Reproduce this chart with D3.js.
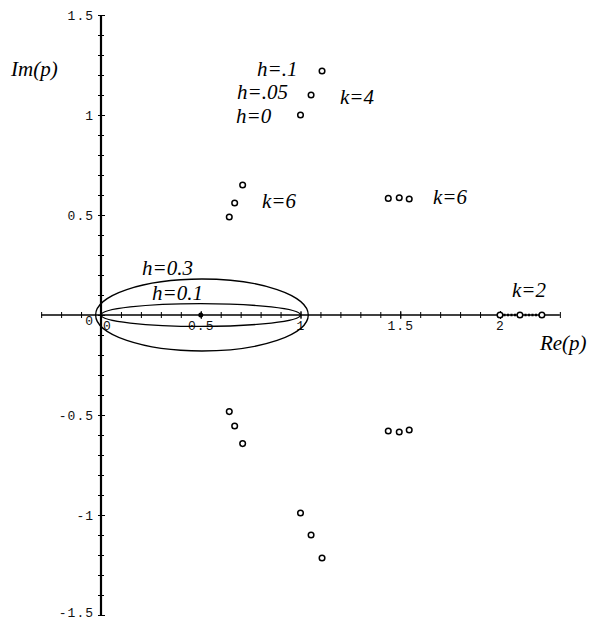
<!DOCTYPE html>
<html>
<head>
<meta charset="utf-8">
<script src="https://cdn.jsdelivr.net/npm/d3@7"></script>
<style>
  body { margin: 0; background: #fff; }
  .lbl { font-family: "Liberation Serif", "Times New Roman", "DejaVu Serif", serif; font-style: italic; font-size: 21px; fill: #000; }
  .tk text { font-family: "Liberation Mono", "DejaVu Sans Mono", monospace; font-size: 13px; fill: #111; letter-spacing: 1px; }
</style>
</head>
<body>
<div class="plot"></div>
<script>
// roots in the complex plane (Re, Im)
var poleRe = [1.0, 1.053, 1.108, 0.643, 0.67, 0.71, 1.44, 1.495, 1.545, 2.0, 2.1, 2.21,
              0.643, 0.67, 0.71, 1.44, 1.495, 1.545, 1.0, 1.053, 1.108];
var poleIm = [1.0, 1.10, 1.22, 0.49, 0.56, 0.65, 0.583, 0.586, 0.58, 0, 0, 0,
              -0.483, -0.555, -0.643, -0.58, -0.585, -0.575, -0.99, -1.10, -1.215];

// the two ellipses (h=0.3 outer, h=0.1 inner)
var ellCx = [0.506, 0.5];
var ellRx = [0.533, 0.5];
var ellRy = [0.18, 0.057];

var xMajor = [0, 0.5, 1, 1.5, 2];
var yMajor = [1.5, 1, 0.5, 0, -0.5, -1, -1.5];

var labelText = ["h=.1", "h=.05", "h=0", "k=4", "k=6", "k=6", "k=2", "h=0.3", "h=0.1", "Im(p)", "Re(p)"];
var labelRe = [0.782, 0.682, 0.677, 1.198, 0.807, 1.664, 2.06, 0.206, 0.256, -0.451, 2.2];
var labelIm = [1.195, 1.08, 0.962, 1.055, 0.535, 0.555, 0.09, 0.2, 0.075, 1.195, -0.175];

var svgWidth = 590;
var svgHeight = 622;

var x = d3.scaleLinear().domain([0, 2]).range([101, 500]);
var y = d3.scaleLinear().domain([-1.5, 1.5]).range([615, 15]);

var svg = d3.select(".plot")
            .append("svg")
            .attr("width", svgWidth)
            .attr("height", svgHeight);

// minor ticks every 0.1
var xMinor = d3.range(-3, 24).map(function(i) { return i / 10; });
var yMinor = d3.range(-15, 16).map(function(i) { return i / 10; });

var xAx = svg.append("g")
    .attr("class", "tk")
    .attr("transform", "translate(0," + y(0) + ")")
    .call(d3.axisBottom(x).tickValues(xMinor).tickFormat(""));
xAx.select(".domain").attr("d", "M" + x(-0.3) + ",0H" + x(2.3)).attr("stroke-width", 1.6);
xAx.selectAll(".tick line").attr("y1", -3).attr("y2", 3);

var yAx = svg.append("g")
    .attr("class", "tk")
    .attr("transform", "translate(" + x(0) + ",0)")
    .call(d3.axisLeft(y).tickValues(yMinor).tickFormat(""));
yAx.select(".domain").attr("d", "M0," + y(1.5) + "V" + y(-1.5)).attr("stroke-width", 2.2);
yAx.selectAll(".tick line").attr("x1", -3).attr("x2", 3);

// major tick labels
var xLab = svg.append("g")
    .attr("class", "tk")
    .attr("transform", "translate(0," + y(0) + ")")
    .call(d3.axisBottom(x).tickValues(xMajor).tickSize(4).tickPadding(2).tickFormat(function(d) { return String(d); }));
xLab.select(".domain").remove();
xLab.selectAll(".tick line").attr("y1", -4);
xLab.selectAll(".tick text").attr("dx", function(d) { return d === 0 ? 6 : 0; });

var yLab = svg.append("g")
    .attr("class", "tk")
    .attr("transform", "translate(" + x(0) + ",0)")
    .call(d3.axisLeft(y).tickValues(yMajor).tickSize(4).tickPadding(3).tickFormat(function(d) { return String(d); }));
yLab.select(".domain").remove();
yLab.selectAll(".tick line").attr("x2", 4);
yLab.selectAll(".tick text").attr("dy", function(d) {
  if (d === 0) return "0.7em";
  if (d === -1.5) return "0.1em";
  return "0.32em";
});

// dotted run of the k=2 roots along the real axis
svg.append("line")
    .attr("x1", x(2)).attr("x2", x(2.21))
    .attr("y1", y(0)).attr("y2", y(0))
    .attr("stroke", "#000")
    .attr("stroke-width", 2.4)
    .attr("stroke-dasharray", "2,1.5");

// ellipses
svg.selectAll("ellipse")
    .data(ellCx)
    .enter()
    .append("ellipse")
    .attr("cx", function(d) { return x(d); })
    .attr("cy", y(0))
    .attr("rx", function(d, i) { return x(ellRx[i]) - x(0); })
    .attr("ry", function(d, i) { return y(0) - y(ellRy[i]); })
    .attr("fill", "none")
    .attr("stroke", "#000")
    .attr("stroke-width", 1.3);

svg.append("circle")
    .attr("cx", x(0.5))
    .attr("cy", y(0))
    .attr("r", 2.5)
    .attr("fill", "#000");

// roots
svg.selectAll("circle.pole")
    .data(poleRe)
    .enter()
    .append("circle")
    .attr("class", "pole")
    .attr("cx", function(d) { return x(d); })
    .attr("cy", function(d, i) { return y(poleIm[i]); })
    .attr("r", 2.8)
    .attr("fill", "#fff")
    .attr("stroke", "#000")
    .attr("stroke-width", 1.5);

svg.selectAll("text.lbl")
    .data(labelText)
    .enter()
    .append("text")
    .attr("class", "lbl")
    .attr("x", function(d, i) { return x(labelRe[i]); })
    .attr("y", function(d, i) { return y(labelIm[i]); })
    .text(function(d) { return d; });
</script>
</body>
</html>
